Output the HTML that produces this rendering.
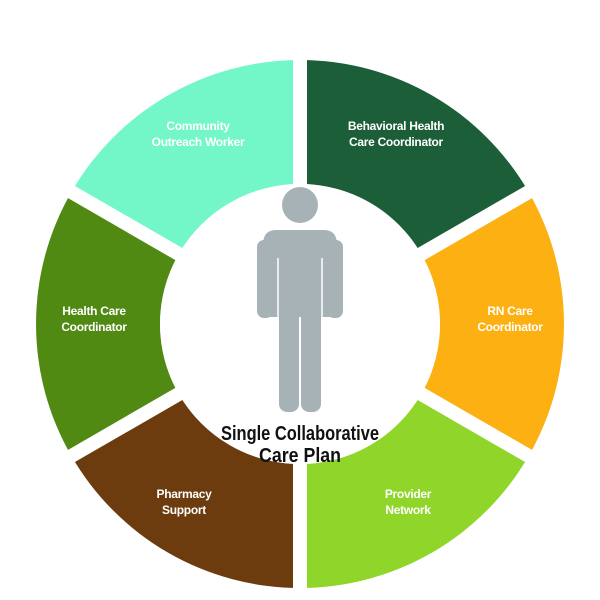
<!DOCTYPE html>
<html><head><style>
html,body{margin:0;padding:0;background:#fff;}
svg{display:block;}
.l{font-family:"Liberation Sans",sans-serif;font-weight:bold;fill:#fff;font-size:12px;text-anchor:middle;letter-spacing:-0.3px;}
.c{font-family:"Liberation Sans",sans-serif;font-weight:bold;fill:#111;font-size:20px;text-anchor:middle;}
</style></head><body>
<svg width="600" height="600" viewBox="0 0 600 600" xmlns="http://www.w3.org/2000/svg">
<g transform="translate(300,324)">
<path d="M0,-264 A264,264 0 0 1 228.6,-132 L121.2,-70 A140,140 0 0 0 0,-140 Z" fill="#1b5e38"/>
<path d="M228.6,-132 A264,264 0 0 1 228.6,132 L121.2,70 A140,140 0 0 0 121.2,-70 Z" fill="#fcb011"/>
<path d="M228.6,132 A264,264 0 0 1 0,264 L0,140 A140,140 0 0 0 121.2,70 Z" fill="#8fd52a"/>
<path d="M0,264 A264,264 0 0 1 -228.6,132 L-121.2,70 A140,140 0 0 0 0,140 Z" fill="#6c3b0e"/>
<path d="M-228.6,132 A264,264 0 0 1 -228.6,-132 L-121.2,-70 A140,140 0 0 0 -121.2,70 Z" fill="#518a13"/>
<path d="M-228.6,-132 A264,264 0 0 1 0,-264 L0,-140 A140,140 0 0 0 -121.2,-70 Z" fill="#73f7c8"/>
<g stroke="#fff" stroke-width="14">
<line x1="0" y1="-280" x2="0" y2="280"/>
<line x1="-242.5" y1="-140" x2="242.5" y2="140"/>
<line x1="-242.5" y1="140" x2="242.5" y2="-140"/>
</g>
<circle r="140" fill="#fff"/>
</g>
<g fill="#a7b2b6">
<circle cx="300" cy="205" r="18"/>
<path d="M276,230 H324 Q337,230 337,245 V317 H263 V245 Q263,230 276,230 Z"/>
<rect x="257" y="240" width="16" height="78" rx="7"/>
<rect x="327" y="240" width="16" height="78" rx="7"/>
<rect x="279" y="300" width="20" height="112" rx="8"/>
<rect x="301" y="300" width="20" height="112" rx="8"/>
</g>
<g stroke="#fff" stroke-width="1.5">
<line x1="278" y1="258" x2="278" y2="318"/>
<line x1="322" y1="258" x2="322" y2="318"/>
</g>
<text class="c" x="300" y="440" textLength="158" lengthAdjust="spacingAndGlyphs">Single Collaborative</text>
<text class="c" x="300" y="462" textLength="82" lengthAdjust="spacingAndGlyphs">Care Plan</text>
<text class="l" x="198" y="130">Community</text>
<text class="l" x="198" y="146">Outreach Worker</text>
<text class="l" x="396" y="130">Behavioral Health</text>
<text class="l" x="396" y="146">Care Coordinator</text>
<text class="l" x="94" y="315">Health Care</text>
<text class="l" x="94" y="331">Coordinator</text>
<text class="l" x="510" y="315">RN Care</text>
<text class="l" x="510" y="331">Coordinator</text>
<text class="l" x="184" y="498">Pharmacy</text>
<text class="l" x="184" y="514">Support</text>
<text class="l" x="408" y="498">Provider</text>
<text class="l" x="408" y="514">Network</text>
</svg>
</body></html>
